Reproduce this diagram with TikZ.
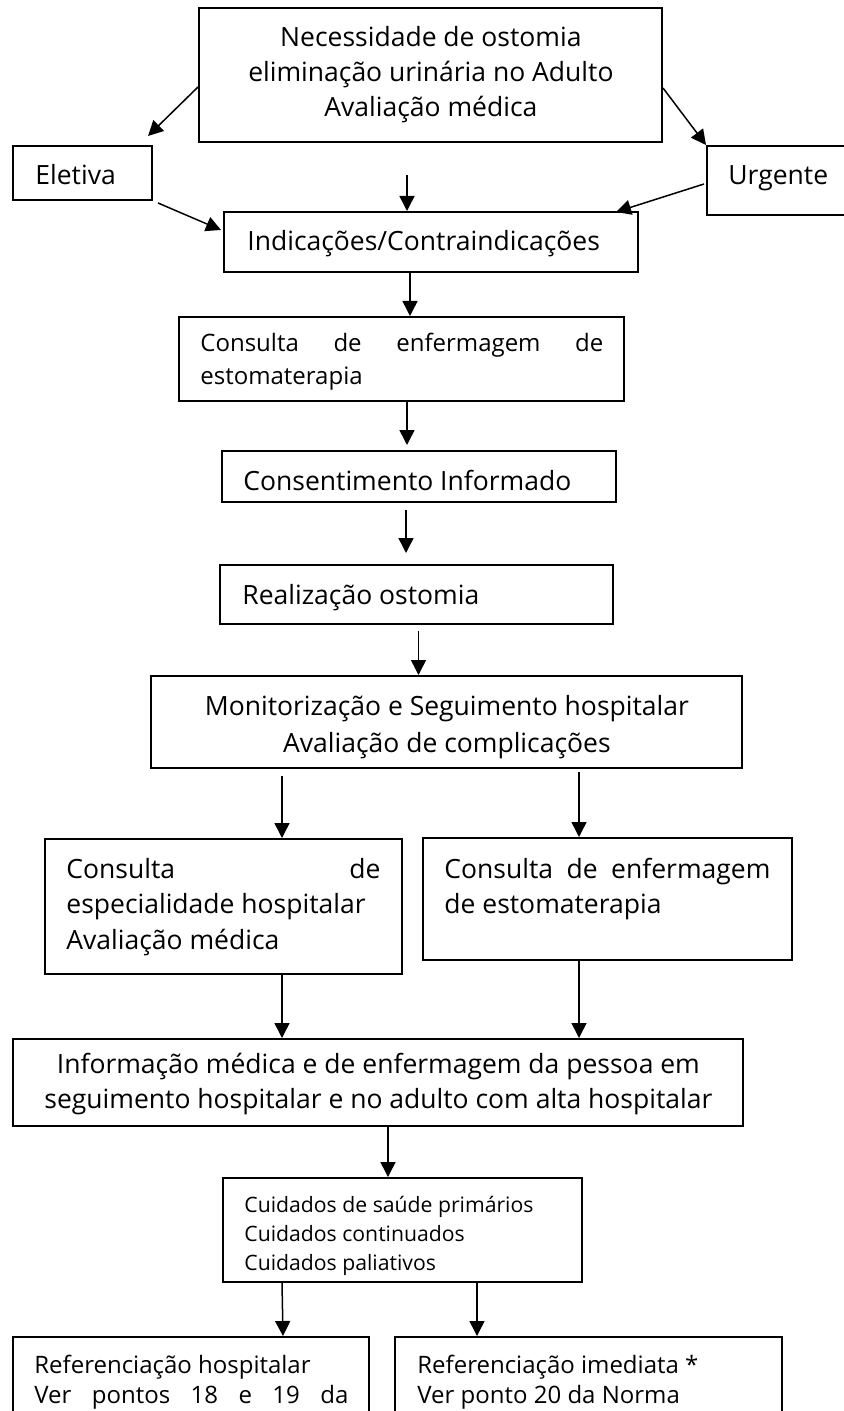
\documentclass[tikz,border=0pt]{standalone}
\usepackage{fontspec}
\setmainfont{Open Sans}
\usetikzlibrary{arrows.meta,calc}
\newcommand\cenln[2]{\hbox to #1{\hss #2\hss}}
\newcommand\mainfs{\fontsize{13.25pt}{17.5pt}\selectfont}
\begin{document}
\begin{tikzpicture}[x=0.5pt,y=-0.5pt,
  box/.style={draw, line width=1pt, inner sep=0pt, minimum width=#1},
  txt/.style={anchor=base west, inner sep=0pt, font=\mainfs},
  arr/.style={-{Triangle[length=7.5pt,width=7.5pt]}, line width=0.75pt}]
\clip (0,0) rectangle (844,1411);
\fill[white] (0,0) rectangle (844,1411);
% boxes
\node[box=231.5pt, minimum height=67pt] (b1) at (430.5,75) {};
\node[box=69.5pt, minimum height=27pt] (b2) at (82.5,173) {};
\node[box=70pt, minimum height=34.5pt] (b3) at (777,180.5) {};
\node[box=207pt, minimum height=30pt] (b4) at (431,242) {};
\node[box=222.5pt, minimum height=42pt] (b5) at (401.5,359) {};
\node[box=197pt, minimum height=25.5pt] (b6) at (419,476.5) {};
\node[box=196.5pt, minimum height=29.5pt] (b7) at (416.5,594.5) {};
\node[box=295.5pt, minimum height=46pt] (b8) at (446.5,722) {};
\node[box=178.5pt, minimum height=67.5pt] (b9) at (223.5,906.5) {};
\node[box=184.5pt, minimum height=61pt] (b10) at (607.5,899) {};
\node[box=365pt, minimum height=43.5pt] (b11) at (378,1082.5) {};
\node[box=179.5pt, minimum height=52pt] (b12) at (402.5,1230) {};
\node[box=178pt, minimum height=61.5pt] (b13) at (191,1398.5) {};
\node[box=193.5pt, minimum height=61.5pt] (b14) at (588.5,1398.5) {};
% texts
\node[txt] (t1) at (199,47) {\vtop{\cenln{231.5pt}{Necessidade de ostomia}\cenln{231.5pt}{eliminação urinária no Adulto}\cenln{231.5pt}{Avaliação médica}}};
\node[txt] (t2) at (35,185) {Eletiva};
\node[txt] (t3) at (728,185) {Urgente};
\node[txt] (t4) at (247,251) {Indicações/Contraindicações};
\node[txt, font=\fontsize{12pt}{16.5pt}\selectfont] (t5) at (200,352) {\vtop{\hbox to 201.5pt{Consulta\hfill de\hfill enfermagem\hfill de}\hbox{estomaterapia}}};
\node[txt] (t6) at (243,490) {Consentimento Informado};
\node[txt] (t7) at (242,604) {Realização ostomia};
\node[txt, font=\fontsize{13.25pt}{18.5pt}\selectfont] (t8) at (151,715) {\vtop{\cenln{295.5pt}{Monitorização e Seguimento hospitalar}\cenln{295.5pt}{Avaliação de complicações}}};
\node[txt, font=\fontsize{13.25pt}{17.75pt}\selectfont] (t9) at (66,878) {\vtop{\hbox to 157pt{Consulta\hfill de}\hbox{especialidade hospitalar}\hbox{Avaliação médica}}};
\node[txt] (t10) at (444,878) {\vtop{\hbox to 163pt{Consulta\hfill de\hfill enfermagem}\hbox{de estomaterapia}}};
\node[txt] (t11) at (13,1073) {\vtop{\cenln{365pt}{Informação médica e de enfermagem da pessoa em}\cenln{365pt}{seguimento hospitalar e no adulto com alta hospitalar}}};
\node[txt, font=\fontsize{10.6pt}{14.5pt}\selectfont] (t12) at (244,1212) {\vtop{\hbox{Cuidados de saúde primários}\hbox{Cuidados continuados}\hbox{Cuidados paliativos}}};
\node[txt, font=\fontsize{12pt}{15pt}\selectfont] (t13) at (34,1373) {\vtop{\hbox{Referenciação hospitalar}\hbox to 157pt{Ver\hfill pontos\hfill 18\hfill e\hfill 19\hfill da}}};
\node[txt, font=\fontsize{12pt}{15pt}\selectfont] (t14) at (417,1373) {\vtop{\hbox{Referenciação imediata *}\hbox{Ver ponto 20 da Norma}}};
% connector start points
\coordinate (c3) at (407,175);
\coordinate (s4) at ($(b4.south)+(-21,0)$);
\coordinate (s8) at ($(b7.south)+(2,6)$);
\coordinate (s9) at ($(b8.south)+(-164.5,7)$);
\coordinate (s10) at ($(b8.south)+(132.5,3)$);
\coordinate (s11) at ($(b9.south)+(58.5,0)$);
\coordinate (s12) at ($(b10.south)+(-28.5,0)$);
\coordinate (s13) at ($(b11.south)+(10,0)$);
\coordinate (s15) at ($(b12.south)+(74.5,0)$);
% connectors
\draw[arr] ($(b1.west)+(0,12)$) -- ($(b2.north east)+(-5,-9)$);
\draw[arr] ($(b1.east)+(0,13)$) -- (b3.north west);
\draw[arr] (c3) -- (c3 |- b4.north);
\draw[arr] ($(b2.south east)+(5,2)$) -- ($(b4.west)+(-2,-12)$);
\draw[arr] ($(b3.west)+(-2,3.5)$) -- ($(b4.north east)+(-23,1)$);
\draw[arr] (s4) -- (s4 |- b5.north);
\draw[arr] ($(b5.south)+(5.5,0)$) -- ($(b6.north)+(-12,-5)$);
\draw[arr] ($(b6.south)+(-13,7)$) -- ($(b7.north)+(-10.5,-11)$);
\draw[arr] (s8) -- (s8 |- b8.north);
\draw[arr] (s9) -- (s9 |- b9.north);
\draw[arr] (s10) -- (s10 |- b10.north);
\draw[arr] (s11) -- (s11 |- b11.north);
\draw[arr] (s12) -- (s12 |- b11.north);
\draw[arr] (s13) -- (s13 |- b12.north);
\draw[arr] ($(b12.south)+(-120.5,0)$) -- ($(b13.north)+(92,0)$);
\draw[arr] (s15) -- (s15 |- b14.north);
\end{tikzpicture}
\end{document}
